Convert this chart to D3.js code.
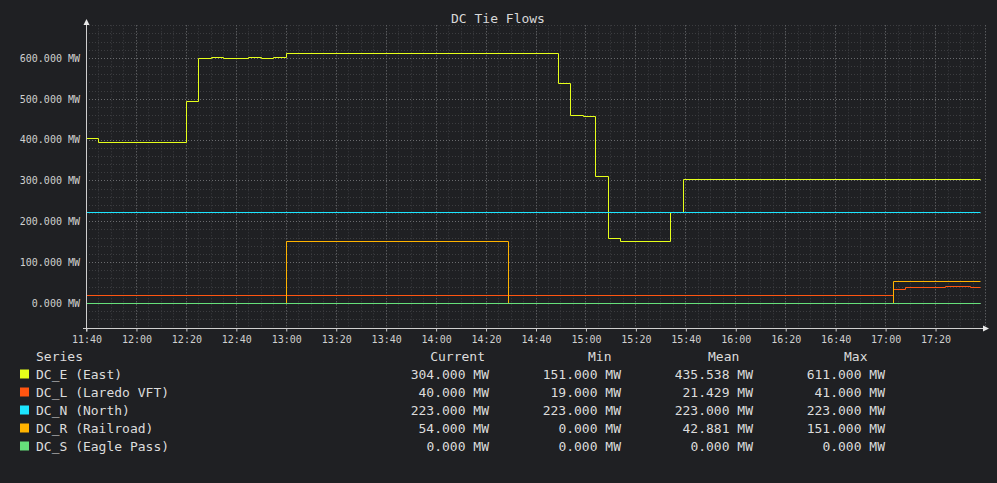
<!DOCTYPE html>
<html>
<head>
<meta charset="utf-8">
<script src="https://cdn.jsdelivr.net/npm/d3@7"></script>
<style>
  html, body { margin: 0; padding: 0; background: #1f2023; }
  svg { display: block; font-family: "DejaVu Sans Mono", monospace; }
</style>
</head>
<body>
<svg id="chart" width="997" height="483"></svg>
<script>
// ---- data ----
const seriesNames = ["DC_E (East)", "DC_L (Laredo VFT)", "DC_N (North)", "DC_R (Railroad)", "DC_S (Eagle Pass)"];
const seriesColors = ["#e6ff1a", "#ff5511", "#1ce5ff", "#ffb300", "#66e07a"];

const eTimes  = ["11:40","11:45","12:20","12:25","12:30","12:35","12:45","12:50","12:55","13:00","14:49","14:54","14:59","15:04","15:09","15:14","15:34","15:39","17:38"];
const eValues = [405, 395, 495, 600, 602, 600, 602, 600, 602, 611, 538, 460, 457, 310, 158, 151, 223, 304, 304];

const lTimes  = ["11:40","17:03","17:08","17:24","17:34","17:38"];
const lValues = [19, 34, 38, 41, 40, 40];

const nTimes  = ["11:40","17:38"];
const nValues = [223, 223];

const rTimes  = ["11:40","13:00","14:29","17:03","17:38"];
const rValues = [0, 151, 0, 54, 54];

const sTimes  = ["11:40","17:38"];
const sValues = [0, 0];

const legendCurrent = ["304.000 MW", "40.000 MW", "223.000 MW", "54.000 MW", "0.000 MW"];
const legendMin     = ["151.000 MW", "19.000 MW", "223.000 MW", "0.000 MW", "0.000 MW"];
const legendMean    = ["435.538 MW", "21.429 MW", "223.000 MW", "42.881 MW", "0.000 MW"];
const legendMax     = ["611.000 MW", "41.000 MW", "223.000 MW", "151.000 MW", "0.000 MW"];

const yTickValues = [0, 100, 200, 300, 400, 500, 600];

// ---- setup ----
const parse = d3.timeParse("%H:%M");
const svg = d3.select("#chart");
const W = 997, H = 483;
const pLeft = 86, pRight = 985, pTop = 25.3, pBottom = 327.5;

const x = d3.scaleTime().domain([parse("11:40"), parse("17:40")]).range([pLeft, pRight]);
const y = d3.scaleLinear().domain([-60, 680]).range([pBottom, pTop]);

svg.append("rect").attr("width", W).attr("height", H).attr("fill", "#1f2023");

// title
svg.append("text").attr("x", 498).attr("y", 23).attr("text-anchor", "middle")
  .attr("fill", "#d8d8d8").attr("font-size", 13).text("DC Tie Flows");

// grid
const g = svg.append("g");
const minorX = d3.timeMinute.every(5).range(parse("11:45"), new Date(parse("17:40").getTime() + 1));
const majorX = d3.timeMinute.every(20).range(parse("12:00"), new Date(parse("17:40").getTime() + 1));
const minorY = d3.range(-60, 681, 20);
const gridRight = 983;

g.selectAll(".mx").data(minorX).join("line")
  .attr("x1", d => Math.round(x(d)) + 0.5).attr("x2", d => Math.round(x(d)) + 0.5)
  .attr("y1", pTop).attr("y2", pBottom)
  .attr("stroke", "#3c3d40").attr("stroke-dasharray", "1,2");
g.selectAll(".my").data(minorY).join("line")
  .attr("x1", pLeft).attr("x2", gridRight)
  .attr("y1", d => Math.round(y(d)) + 0.5).attr("y2", d => Math.round(y(d)) + 0.5)
  .attr("stroke", "#3c3d40").attr("stroke-dasharray", "1,2");
g.selectAll(".Mx").data(majorX).join("line")
  .attr("x1", d => Math.round(x(d)) + 0.5).attr("x2", d => Math.round(x(d)) + 0.5)
  .attr("y1", pTop).attr("y2", pBottom)
  .attr("stroke", "#6a6b6e").attr("stroke-dasharray", "1,2");
g.selectAll(".My").data(yTickValues).join("line")
  .attr("x1", pLeft).attr("x2", gridRight)
  .attr("y1", d => Math.round(y(d)) + 0.5).attr("y2", d => Math.round(y(d)) + 0.5)
  .attr("stroke", "#6a6b6e").attr("stroke-dasharray", "1,2");

// series lines
const allTimes = [eTimes, lTimes, nTimes, rTimes, sTimes];
const allValues = [eValues, lValues, nValues, rValues, sValues];
const line = d3.line()
  .x(d => Math.round(x(d.t)) + 0.5)
  .y(d => Math.round(y(d.v)) + 0.5)
  .curve(d3.curveStepAfter);
allTimes.forEach((ts, i) => {
  const data = ts.map((t, j) => ({ t: parse(t), v: allValues[i][j] }));
  svg.append("path").datum(data)
    .attr("d", line)
    .attr("fill", "none")
    .attr("stroke", seriesColors[i])
    .attr("stroke-width", 1);
});

// axes
const axisColor = "#cfcfcf";
const xAxis = d3.axisBottom(x)
  .tickValues(d3.timeMinute.every(20).range(parse("11:40"), parse("17:40")))
  .tickFormat(d3.timeFormat("%H:%M"))
  .tickSize(3).tickPadding(4);
const xa = svg.append("g").attr("transform", `translate(0.5,${Math.round(pBottom) + 0.5})`).call(xAxis);
xa.select(".domain").remove();
xa.selectAll(".tick line").attr("stroke", axisColor);
xa.selectAll(".tick text").attr("fill", "#d0d0d0").attr("font-size", 10)
  .attr("font-family", "DejaVu Sans Mono, monospace");

const yAxis = d3.axisLeft(y).tickValues(yTickValues)
  .tickFormat(d => d3.format(".3f")(d) + " MW").tickSize(0).tickPadding(6);
const ya = svg.append("g").attr("transform", `translate(${pLeft},0)`).call(yAxis);
ya.select(".domain").remove();
ya.selectAll(".tick text").attr("fill", "#d0d0d0").attr("font-size", 10)
  .attr("font-family", "DejaVu Sans Mono, monospace");

// axis lines with arrows
const by = Math.round(pBottom) + 0.5;
svg.append("line").attr("x1", pLeft + 0.5).attr("x2", pLeft + 0.5).attr("y1", by + 3).attr("y2", 22)
  .attr("stroke", axisColor);
svg.append("line").attr("x1", pLeft - 3).attr("x2", 985).attr("y1", by).attr("y2", by)
  .attr("stroke", axisColor);
svg.append("path").attr("d", `M${pLeft + 0.5},19 L${pLeft - 2.5},25 L${pLeft + 3.5},25 Z`).attr("fill", "#e8e8e8");
svg.append("path").attr("d", `M989,${by} L983,${by - 3} L983,${by + 3} Z`).attr("fill", "#e8e8e8");

// legend
const lg = svg.append("g").attr("font-size", 13).attr("fill", "#dcdcdc")
  .attr("font-family", "DejaVu Sans Mono, monospace");
const headerY = 361;
lg.append("text").attr("x", 36).attr("y", headerY).text("Series");
lg.append("text").attr("x", 485).attr("y", headerY).attr("text-anchor", "end").text("Current");
lg.append("text").attr("x", 588).attr("y", headerY).text("Min");
lg.append("text").attr("x", 708).attr("y", headerY).text("Mean");
lg.append("text").attr("x", 844).attr("y", headerY).text("Max");

seriesNames.forEach((name, i) => {
  const cy = 374 + i * 18;
  lg.append("rect").attr("x", 20).attr("y", cy - 4.5).attr("width", 9).attr("height", 9)
    .attr("fill", seriesColors[i]);
  lg.append("text").attr("x", 36).attr("y", cy + 5).text(name);
  lg.append("text").attr("x", 489).attr("y", cy + 5).attr("text-anchor", "end").text(legendCurrent[i]);
  lg.append("text").attr("x", 621).attr("y", cy + 5).attr("text-anchor", "end").text(legendMin[i]);
  lg.append("text").attr("x", 753).attr("y", cy + 5).attr("text-anchor", "end").text(legendMean[i]);
  lg.append("text").attr("x", 885).attr("y", cy + 5).attr("text-anchor", "end").text(legendMax[i]);
});
</script>
</body>
</html>
